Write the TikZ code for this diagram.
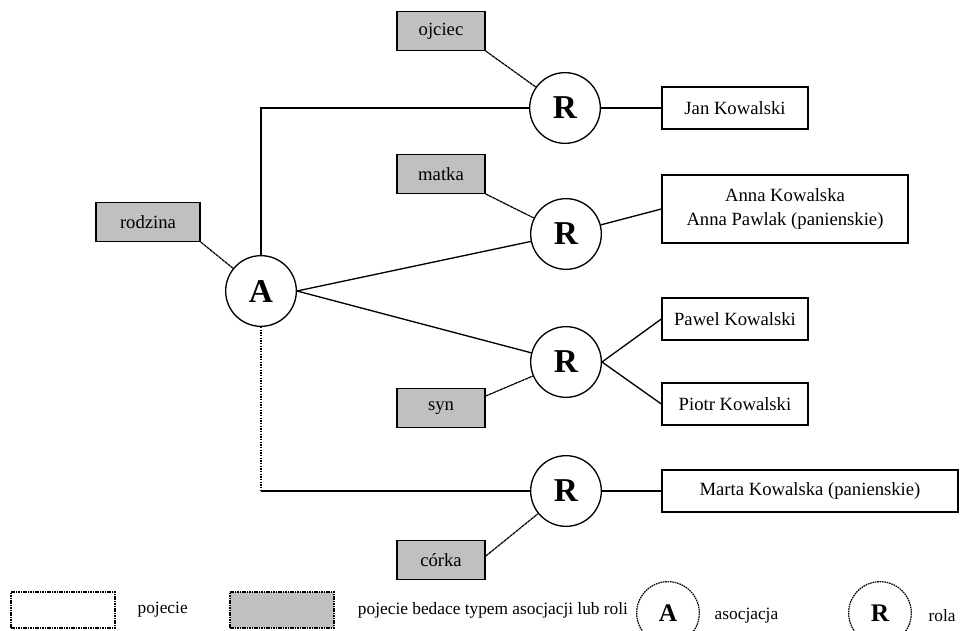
\documentclass[tikz,border=0pt]{standalone}
\usepackage{fontspec}
\setmainfont{Liberation Serif}
\usetikzlibrary{positioning}
\definecolor{typefill}{HTML}{C0C0C0}
\definecolor{darkline}{HTML}{000000}
\tikzset{
  concept/.style={rectangle, draw=darkline, line width=1pt, fill=white, align=center,
                  font=\fontsize{14}{18}\selectfont, minimum height=31.5pt, inner sep=2pt},
  typebox/.style={concept, fill=typefill, minimum width=66pt, minimum height=29pt},
  namebox/.style={concept, minimum width=109.5pt},
  ring/.style={circle, draw=darkline, line width=1pt, fill=white, minimum size=53pt,
               inner sep=0pt, font=\fontsize{25}{25}\selectfont\bfseries},
  link/.style={line width=1pt, draw=darkline},
  typelink/.style={line width=0.9pt, draw=darkline, dash pattern=on 2.5pt off 0.4pt},
  keyshape/.style={dash pattern=on 1.2pt off 0.6pt, line width=0.9pt},
  keytext/.style={font=\fontsize{13}{16}\selectfont, anchor=west},
}

\begin{document}
\begin{tikzpicture}[x=0.75pt, y=-0.75pt]
\useasboundingbox (0,0) rectangle (961,631);
\clip (0,0) rectangle (961,631);

% Association and roles
\node[ring] (a)  at (261,291) {A};
\node[ring] (r1) at (565,108) {R};
\node[ring] (r2) at (566,234) {R};
\node[ring] (r3) at (566,362) {R};
\node[ring] (r4) at (566,491) {R};

% Types of association and roles
\node[typebox, minimum width=78pt] (rodzina) at (148,222) {rodzina};
\node[typebox] (ojciec) at (441,31)  {ojciec};
\node[typebox] (matka)  at (441,174) {matka};
\node[typebox] (syn)    at (441,408) {syn};
\node[typebox] (corka)  at (441,560) {córka};

% Players
\node[namebox] (jan)   at (735,108) {Jan Kowalski};
\node[namebox, minimum width=184.5pt, minimum height=51pt] (anna) at (785,209)
  {Anna Kowalska\\Anna Pawlak (panienskie)};
\node[namebox] (pawel) at (735,319) {Pawel Kowalski};
\node[namebox] (piotr) at (735,404) {Piotr Kowalski};
\node[namebox, minimum width=222pt] (marta) at (810,491) {Marta Kowalska (panienskie)};

% Connections
\draw[link] (a.north) |- (r1.west);
\draw[link] (a.east) -- (r2);
\draw[link] (a.east) -- (r3);
\coordinate (bend) at (a.south |- r4.west);
\draw[line width=1pt, densely dotted] (a.south) -- (bend);
\draw[link] (bend) -- (r4.west);
\draw[link] (r1.east) -- (jan.west);
\draw[link] (r2) -- (anna.west);
\draw[link] (r3.east) -- (pawel.west);
\draw[link] (r3.east) -- (piotr.west);
\draw[link] (r4.east) -- (marta.west);

\draw[typelink] (rodzina.south east) -- (a);
\draw[typelink] (ojciec.south east) -- (r1);
\draw[typelink] (matka.south east) -- (r2);
\draw[typelink] (syn.15) -- (r3);
\draw[typelink] (corka.5) -- (r4);

% Legend
\node[concept, keyshape, minimum width=78pt, minimum height=27pt] (keyconcept) at (63,610) {};
\node[keytext, right=13pt of keyconcept] (keyconcepttext) {pojecie};
\node[typebox, keyshape, minimum width=78pt, minimum height=27pt] (keytype) at (282,610) {};
\node[keytext, right=14pt of keytype] (keytypetext) {pojecie bedace typem asocjacji lub roli};
\node[ring, keyshape, minimum size=47pt, font=\fontsize{19}{19}\selectfont\bfseries] (keyassoc) at (668,613) {A};
\node[keytext, anchor=west] (keyassoctext) at (710,616) {asocjacja};
\node[ring, keyshape, minimum size=47pt, font=\fontsize{19}{19}\selectfont\bfseries] (keyrole) at (880,613) {R};
\node[keytext, anchor=west] (keyroletext) at (924,616) {rola};

\end{tikzpicture}
\end{document}
